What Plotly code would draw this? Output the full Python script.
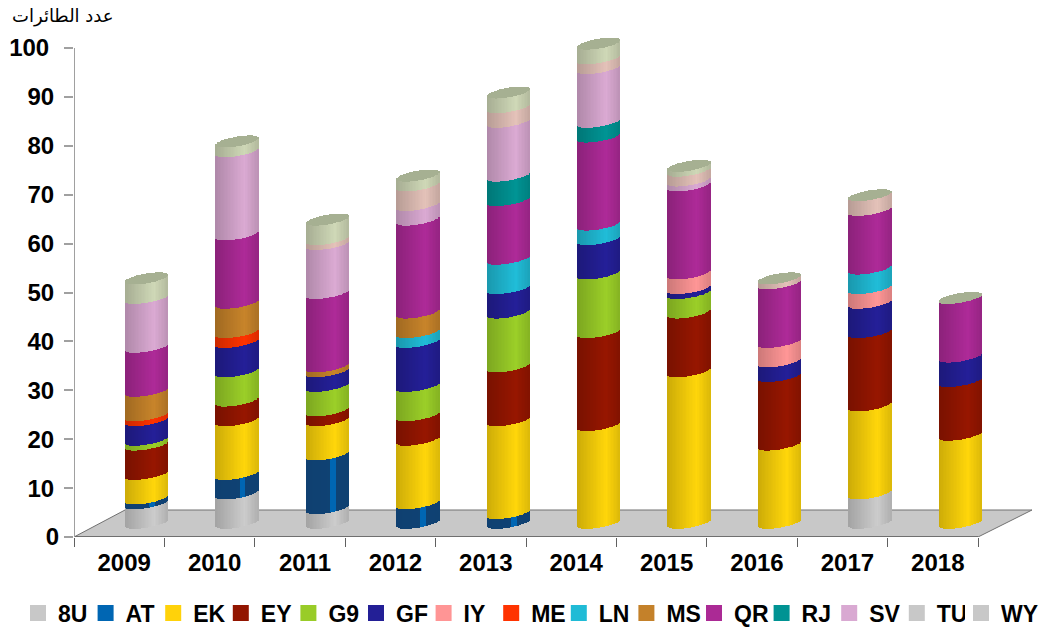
import math
import plotly.graph_objects as go

years = ["2009", "2010", "2011", "2012", "2013", "2014", "2015", "2016", "2017", "2018"]
s_8U = [4, 6, 3, 0, 0, 0, 0, 0, 6, 0]
s_AT = [1, 4, 11, 4, 2, 0, 0, 0, 0, 0]
s_EK = [5, 11, 7, 13, 19, 20, 31, 16, 18, 18]
s_EY = [6, 4, 2, 5, 11, 19, 12, 14, 15, 11]
s_G9 = [1, 6, 5, 6, 11, 12, 4, 0, 0, 0]
s_GF = [4, 6, 3, 9, 5, 7, 1, 3, 6, 5]
s_IY = [0, 0, 0, 0, 0, 0, 3, 4, 3, 0]
s_ME = [1, 2, 0, 0, 0, 0, 0, 0, 0, 0]
s_LN = [0, 0, 0, 2, 6, 3, 0, 0, 4, 0]
s_MS = [5, 6, 1, 4, 0, 0, 0, 0, 0, 0]
s_QR = [9, 14, 15, 19, 12, 18, 18, 12, 12, 12]
s_RJ = [0, 0, 0, 0, 5, 3, 0, 0, 0, 0]
s_SV = [10, 17, 10, 3, 11, 11, 1, 0, 0, 0]
s_TU = [0, 0, 1, 4, 3, 2, 2, 1, 3, 0]
s_WY = [4, 2, 4, 2, 3, 3, 1, 0, 0, 0]

names = ["8U", "AT", "EK", "EY", "G9", "GF", "IY", "ME", "LN", "MS", "QR", "RJ", "SV", "TU", "WY"]
series = [s_8U, s_AT, s_EK, s_EY, s_G9, s_GF, s_IY, s_ME, s_LN, s_MS, s_QR, s_RJ, s_SV, s_TU, s_WY]
side_colors = ["#CCCCCC", "#0F4274", "#FFD60A", "#971600", "#9BCF28", "#241F98", "#FF9696", "#FF3300",
               "#20BDD8", "#C8842A", "#AE2A98", "#009494", "#DBAAD3", "#E4C2B9", "#CFD8B7"]
legend_colors = ["#C8C8C8", "#0066B3", "#FFD20A", "#921500", "#99CC28", "#231F96", "#FF9595", "#FF3300",
                 "#20BBD6", "#C4812A", "#AB2A95", "#009393", "#D9A9D2", "#C8C8C8", "#C8C8C8"]
CAP_COLOR = "#A6B092"
HIGHLIGHT_AT = "#0066B3"

# Reference geometry, in pixels
L, R, T, B = 74, 978, 48, 537
W, H = 1039, 630
PX_X = (R - L) / 10
PX_Y = (B - T) / 100
DEPTH_X, DEPTH_Y = 54, 27
BAR_SHIFT = 27.7
HALF_W, HALF_H = 21.4, 6.0
PHI = math.radians(36)
N_STRIPS = 30
GROUND = 2.9
X_MAX = (W - L) / PX_X
Y_MAX = B / PX_Y


def px_x(p):
    return (p - L) / (W - L)


def px_y(p):
    return (B - p) / B


def arc(dx, sign):
    c = max(-1.0, min(1.0, dx / HALF_W))
    return HALF_H * math.sin(PHI + sign * math.acos(c)) / PX_Y


def shade(hex_color, u, name):
    r, g, b = (int(hex_color[i:i + 2], 16) for i in (1, 3, 5))
    if name == "AT" and 0.58 <= u <= 0.69:
        return HIGHLIGHT_AT
    if u < 0.68:
        f = 0.80 + 0.20 * (u / 0.68)
    else:
        f = 1.0 - 0.14 * ((u - 0.68) / 0.32)
    if name == "AT":
        f = 0.86 + 0.14 * f
    return "#%02X%02X%02X" % (round(r * f), round(g * f), round(b * f))


fig = go.Figure()
strip_dx = [(-HALF_W + (k + 0.5) * 2 * HALF_W / N_STRIPS) for k in range(N_STRIPS)]
strip_w = (2 * HALF_W / N_STRIPS) / PX_X
totals = [0.0] * len(years)

for name, values, color in zip(names, series, side_colors):
    xs, ys, bases, cols = [], [], [], []
    for i, v in enumerate(values):
        centre = i + 0.5 + BAR_SHIFT / PX_X
        if v > 0:
            for k, dx in enumerate(strip_dx):
                xs.append(centre + dx / PX_X)
                ys.append(v)
                bases.append(GROUND + totals[i] + arc(dx, -1))
                cols.append(shade(color, (k + 0.5) / N_STRIPS, name))
        totals[i] += v
    if name == "WY":
        for i, tot in enumerate(totals):
            centre = i + 0.5 + BAR_SHIFT / PX_X
            for dx in strip_dx:
                low, high = arc(dx, -1), arc(dx, 1)
                xs.append(centre + dx / PX_X)
                ys.append(high - low)
                bases.append(GROUND + tot + low)
                cols.append(CAP_COLOR)
    fig.add_trace(go.Bar(x=xs, y=ys, base=bases, width=strip_w, name=name, legendgroup=name,
                         showlegend=False, hoverinfo="skip",
                         marker=dict(color=cols, line=dict(width=0))))

for name, leg in zip(names, legend_colors):
    fig.add_trace(go.Scatter(x=[None], y=[None], mode="markers", name=name, legendgroup=name,
                             legend="legend2" if name == "WY" else "legend",
                             marker=dict(symbol="square", size=16, color=leg, line=dict(width=0))))

# floor and axis lines, in axis units
fx = DEPTH_X / PX_X
fy = DEPTH_Y / PX_Y
floor = "M0,0 L10,0 L%f,%f L%f,%f Z" % (10 + fx, fy, 51 / PX_X, fy)
shapes = [
    dict(type="path", xref="x", yref="y", path=floor, fillcolor="#C8C8C8",
         line=dict(color="#707070", width=1), layer="below"),
    dict(type="line", xref="x", yref="y", x0=0, x1=10, y0=0, y1=0,
         line=dict(color="#606060", width=1.5), layer="above"),
    dict(type="line", xref="x", yref="y", x0=0, x1=0, y0=0, y1=100,
         line=dict(color="#A0A0A0", width=2), layer="above"),
]

FONT = "Liberation Sans, Arial, sans-serif"
ytick_vals = list(range(0, 101, 10))


def ylab(v):
    pad = len(str(v)) - 1
    return str(v) + ('<span style="font-size:18px">' + "\u00a0" * pad + "</span>" if pad else "")


legend_font = dict(family=FONT, size=23, color="black", weight="bold")

fig.update_layout(
    width=W, height=H, autosize=False,
    margin=dict(l=L, r=0, t=0, b=H - B, pad=0, autoexpand=False),
    paper_bgcolor="white", plot_bgcolor="white",
    barmode="overlay", bargap=0,
    font=dict(family=FONT, size=23, color="black"),
    xaxis=dict(type="linear", range=[0, X_MAX], showgrid=False, zeroline=False,
               tickmode="array", tickvals=[i + 0.555 for i in range(10)], ticktext=years,
               ticks="", showline=False,
               tickfont=dict(family=FONT, size=24, color="black", weight="bold"),
               ticklabelstandoff=9,
               minor=dict(tickmode="array", tickvals=list(range(11)), ticks="outside",
                          ticklen=9, tickcolor="#606060", tickwidth=1, showgrid=False)),
    yaxis=dict(type="linear", range=[0, Y_MAX], showgrid=False, zeroline=False,
               tickmode="array", tickvals=ytick_vals, ticktext=[ylab(v) for v in ytick_vals],
               ticks="outside", ticklen=9, tickcolor="#A0A0A0", tickwidth=1.5,
               showline=False,
               tickfont=dict(family=FONT, size=24, color="black", weight="bold")),
    legend=dict(orientation="h", x=px_x(18), xanchor="left", y=px_y(613), yanchor="middle",
                entrywidth=22.6, entrywidthmode="pixels", itemsizing="trace", traceorder="normal",
                font=legend_font, bgcolor="rgba(0,0,0,0)"),
    legend2=dict(orientation="h", x=px_x(961), xanchor="left", y=px_y(613), yanchor="middle",
                 itemsizing="trace", font=legend_font, bgcolor="rgba(0,0,0,0)"),
    shapes=shapes,
    annotations=[dict(text="عدد الطائرات", xref="paper", yref="paper", x=px_x(116), y=px_y(16),
                      xanchor="right", yanchor="middle", showarrow=False,
                      font=dict(family="DejaVu Sans", size=18, color="black"))],
)

fig.write_html("out.html", config={"displayModeBar": False},
               post_script="document.body.style.margin='0';")
